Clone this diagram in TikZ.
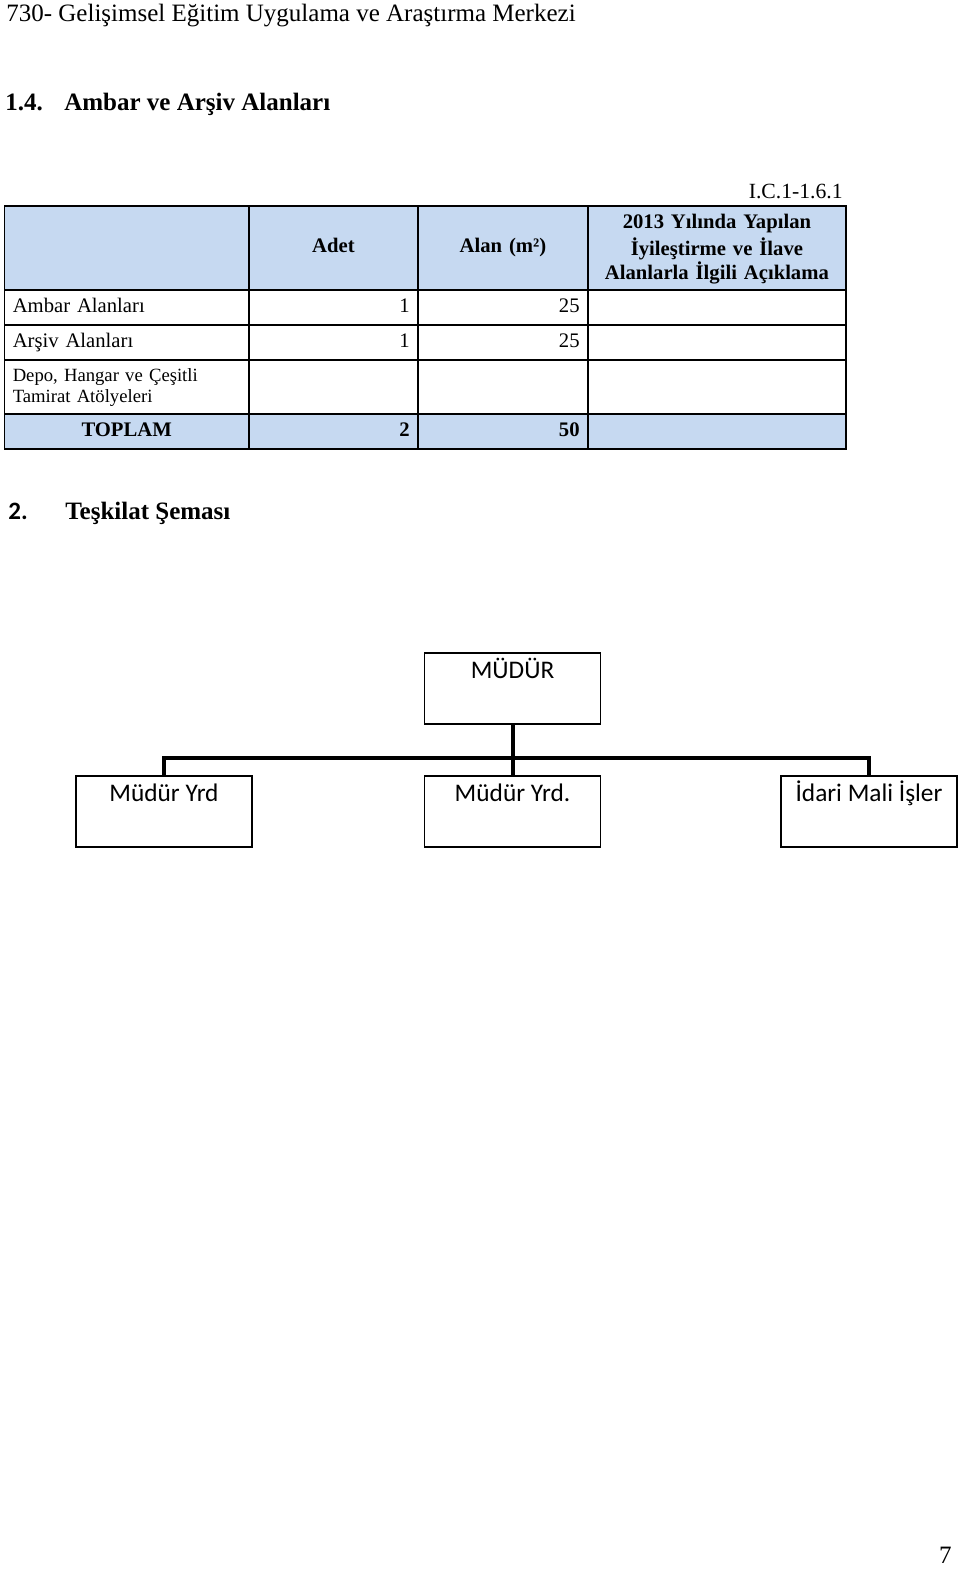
\documentclass[tikz,border=0pt]{standalone}
\usepackage{fontspec}
\setmainfont{Liberation Serif}
\newfontfamily\calibri{Carlito}
\definecolor{headblue}{RGB}{198,217,241}
\tikzset{
  cell/.style={draw, line width=1.1pt, anchor=north west, inner xsep=5pt, inner ysep=0pt,
    execute at begin node=\strut, font=\fontsize{12.4}{14.4}\selectfont},
  hcell/.style={cell, fill=headblue, font=\fontsize{12.4}{14.4}\selectfont\bfseries},
  colA/.style={minimum width=146.7pt, text width=136.7pt},
  colB/.style={minimum width=101.4pt, text width=91.4pt, align=right},
  colC/.style={minimum width=102pt, text width=92pt, align=right},
  colD/.style={minimum width=154.8pt, text width=144.8pt, align=center},
  orgbox/.style={draw, line width=1pt, minimum width=105.6pt, inner sep=0pt,
    text height=15pt, text depth=27.6pt, font=\calibri\fontsize{15.2}{17}\selectfont},
  orgline/.style={line width=2.4pt}
}
\begin{document}
\begin{tikzpicture}[x=0.6pt, y=-0.6pt, heading/.style={anchor=base west, inner sep=0pt, font=\fontsize{15}{18}\selectfont}]
  \useasboundingbox (0,0) rectangle (960,1582);
  \node[heading] (title) at (6,22) {730- Gelişimsel Eğitim Uygulama ve Araştırma Merkezi};
  \node[heading, font=\fontsize{15}{18}\selectfont\bfseries] (secnum) at (5,111) {1.4.};
  \node[heading, font=\fontsize{15}{18}\selectfont\bfseries] (sectitle) at (64,111) {Ambar ve Arşiv Alanları};
  \node[heading, anchor=base east, font=\fontsize{13}{15}\selectfont] (code) at (843,199) {I.C.1-1.6.1};
  % header row
  \node[hcell, colA, minimum height=50.4pt] (h1) at (3.5,205) {};
  \node[hcell, colB, align=center, minimum height=50.4pt] (h2) at (248,205) {Adet};
  \node[hcell, colC, align=center, minimum height=50.4pt] (h3) at (417,205) {Alan (m²)};
  \node[hcell, colD, minimum height=50.4pt] (h4) at (587,205) {2013 Yılında Yapılan\\İyileştirme ve İlave\\Alanlarla İlgili Açıklama};
  % rows
  \node[cell, colA, align=left, minimum height=21pt] (a1) at (3.5,289) {Ambar Alanları};
  \node[cell, colB, minimum height=21pt] (a2) at (248,289) {1};
  \node[cell, colC, minimum height=21pt] (a3) at (417,289) {25};
  \node[cell, colD, minimum height=21pt] (a4) at (587,289) {};
  \node[cell, colA, align=left, minimum height=21pt] (b1) at (3.5,324) {Arşiv Alanları};
  \node[cell, colB, minimum height=21pt] (b2) at (248,324) {1};
  \node[cell, colC, minimum height=21pt] (b3) at (417,324) {25};
  \node[cell, colD, minimum height=21pt] (b4) at (587,324) {};
  \node[cell, colA, align=left, minimum height=32.4pt, font=\fontsize{11.2}{12.6}\selectfont] (c1) at (3.5,359) {Depo, Hangar ve Çeşitli\\Tamirat Atölyeleri};
  \node[cell, colB, minimum height=32.4pt] (c2) at (248,359) {};
  \node[cell, colC, minimum height=32.4pt] (c3) at (417,359) {};
  \node[cell, colD, minimum height=32.4pt] (c4) at (587,359) {};
  \node[hcell, colA, align=center, minimum height=21pt] (t1) at (3.5,413) {TOPLAM};
  \node[hcell, colB, minimum height=21pt] (t2) at (248,413) {2};
  \node[hcell, colC, minimum height=21pt] (t3) at (417,413) {50};
  \node[hcell, colD, minimum height=21pt] (t4) at (587,413) {};
  % org chart
  \node[heading, font=\calibri\bfseries\fontsize{15}{18}\selectfont] (chnum) at (8,519) {2.};
  \node[heading, font=\fontsize{15}{18}\selectfont\bfseries] (chtitle) at (65,519) {Teşkilat Şeması};
  \node[orgbox] (mudur) at (512.5,688.5) {MÜDÜR};
  \node[orgbox] (yrdA) at (164,811.5) {Müdür Yrd};
  \node[orgbox] (yrdB) at (512.5,811.5) {Müdür Yrd.};
  \node[orgbox] (idari) at (869,811.5) {İdari Mali İşler};
  \coordinate (bar) at (512.5,758);
  \draw[orgline] (mudur) -- (yrdB);
  \draw[orgline] (yrdA.north) |- (bar) -| (idari.north);
  \node[heading, anchor=base east] (pageno) at (952,1563) {7};
\end{tikzpicture}
\end{document}
